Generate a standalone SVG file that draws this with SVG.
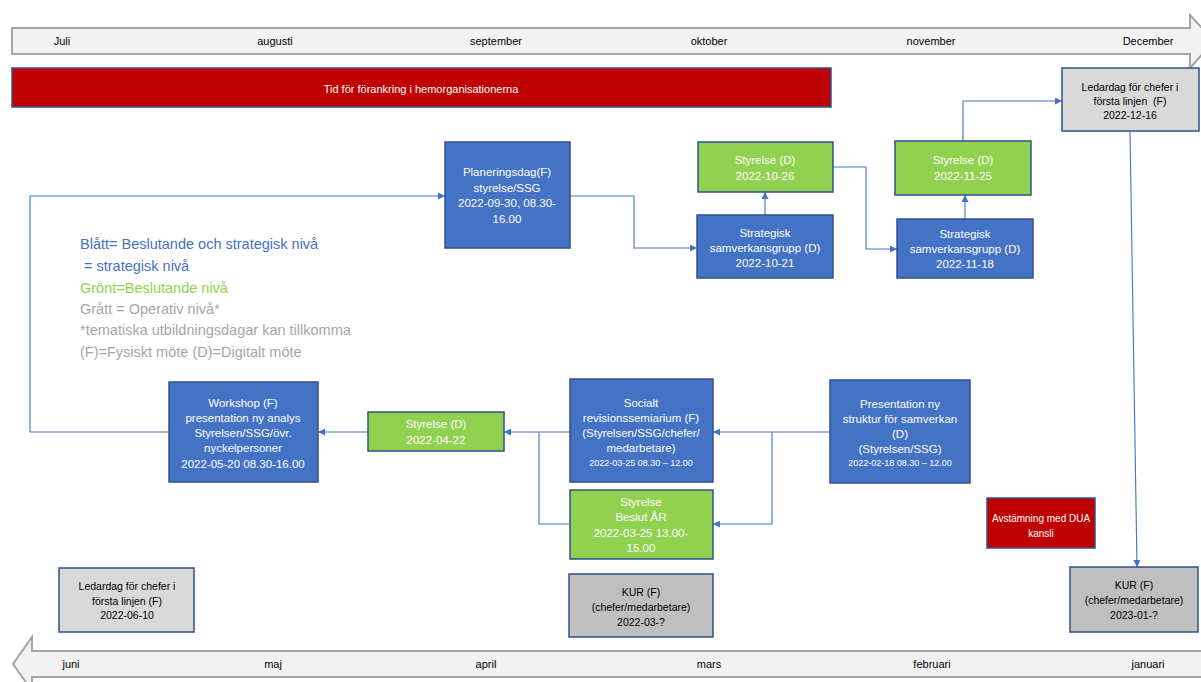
<svg xmlns="http://www.w3.org/2000/svg" width="1201" height="682" viewBox="0 0 1201 682">
<defs>
<style>
text{font-family:"Liberation Sans",Arial,sans-serif;text-anchor:middle}
.box{stroke:#2f528f;stroke-width:1.5}
.blue{fill:#4472c4}
.green{fill:#92d050}
.red{fill:#c00000}
.lgray{fill:#d9d9d9}
.dgray{fill:#bfbfbf}
.wt{fill:#ffffff;font-size:11.5px}
.bt{fill:#000000;font-size:10.5px}
.sm{font-size:9px}
.tl{fill:#f2f2f2;stroke:#a5a5a5;stroke-width:2}
.mo{fill:#000;font-size:11px}
.conn{fill:none;stroke:#4472c4;stroke-width:1.1}
.leg{font-size:14.5px;text-anchor:start}
</style>
<marker id="ah" viewBox="0 0 10 10" refX="10" refY="5" markerWidth="7" markerHeight="7" markerUnits="userSpaceOnUse" orient="auto">
<path d="M0,0 L10,5 L0,10 z" fill="#4472c4"/>
</marker>
</defs>

<g id="timeline-top">
<path class="tl" d="M12,28 H1190 V15 L1214,41 L1190,68 V54 H12 Z"/>
<text class="mo" x="62" y="45">Juli</text>
<text class="mo" x="275" y="45">augusti</text>
<text class="mo" x="496" y="45">september</text>
<text class="mo" x="709" y="45">oktober</text>
<text class="mo" x="931" y="45">november</text>
<text class="mo" x="1148" y="45">December</text>
</g>

<g id="timeline-bottom">
<path class="tl" d="M1210,651 H32 V637 L13,664 L32,691 V677 H1210"/>
<text class="mo" x="71" y="668">juni</text>
<text class="mo" x="273" y="668">maj</text>
<text class="mo" x="486" y="668">april</text>
<text class="mo" x="709" y="668">mars</text>
<text class="mo" x="932" y="668">februari</text>
<text class="mo" x="1148" y="668">januari</text>
</g>

<g id="forankring">
<rect class="box red" x="12" y="68" width="819" height="39"/>
<text class="wt" x="421" y="93" style="font-size:11px">Tid för förankring i hemorganisationerna</text>
</g>

<g id="legend">
<text class="leg" x="80" y="249" fill="#4472c4">Blått= Beslutande och strategisk nivå</text>
<text class="leg" x="84" y="271" fill="#4472c4">= strategisk nivå</text>
<text class="leg" x="80" y="293" fill="#92d050">Grönt=Beslutande nivå</text>
<text class="leg" x="80" y="314" fill="#a6a6a6">Grått = Operativ nivå*</text>
<text class="leg" x="80" y="335" fill="#a6a6a6">*tematiska utbildningsdagar kan tillkomma</text>
<text class="leg" x="80" y="357" fill="#a6a6a6">(F)=Fysiskt möte (D)=Digitalt möte</text>
</g>

<g id="connectors">
<path class="conn" d="M570,196 H634 V248 H697" marker-end="url(#ah)"/>
<path class="conn" d="M765,215 V192" marker-end="url(#ah)"/>
<path class="conn" d="M833,167 H866 V249 H897" marker-end="url(#ah)"/>
<path class="conn" d="M965,219 V195" marker-end="url(#ah)"/>
<path class="conn" d="M963,141 V101 H1062" marker-end="url(#ah)"/>
<path class="conn" d="M1130,131 L1137,567" marker-end="url(#ah)"/>
<path class="conn" d="M169,432 H30 V196 H445" marker-end="url(#ah)"/>
<path class="conn" d="M368,432 H318" marker-end="url(#ah)"/>
<path class="conn" d="M570,432 H504" marker-end="url(#ah)"/>
<path class="conn" d="M570,524 H539 V432"/>
<path class="conn" d="M830,432 H713" marker-end="url(#ah)"/>
<path class="conn" d="M772,432 V524 H713" marker-end="url(#ah)"/>
</g>

<g id="planeringsdag">
<rect class="box blue" x="445" y="142" width="125" height="106"/>
<text class="wt" x="507" y="176">Planeringsdag(F)</text>
<text class="wt" x="507" y="192">styrelse/SSG</text>
<text class="wt" x="507" y="207">2022-09-30, 08.30-</text>
<text class="wt" x="507" y="223">16.00</text>
</g>

<g id="styrelse-1026">
<rect class="box green" x="698" y="142" width="135" height="50"/>
<text class="wt" x="765" y="164">Styrelse (D)</text>
<text class="wt" x="765" y="180">2022-10-26</text>
</g>

<g id="strategisk-1021">
<rect class="box blue" x="697" y="215" width="136" height="63"/>
<text class="wt" x="765" y="237">Strategisk</text>
<text class="wt" x="765" y="252">samverkansgrupp (D)</text>
<text class="wt" x="765" y="267">2022-10-21</text>
</g>

<g id="styrelse-1125">
<rect class="box green" x="895" y="141" width="136" height="54"/>
<text class="wt" x="963" y="164">Styrelse (D)</text>
<text class="wt" x="963" y="180">2022-11-25</text>
</g>

<g id="strategisk-1118">
<rect class="box blue" x="897" y="219" width="136" height="59"/>
<text class="wt" x="965" y="238">Strategisk</text>
<text class="wt" x="965" y="253">samverkansgrupp (D)</text>
<text class="wt" x="965" y="268">2022-11-18</text>
</g>

<g id="ledardag-1216">
<rect class="box lgray" x="1062" y="68" width="137" height="63"/>
<text class="bt" x="1130" y="91">Ledardag för chefer i</text>
<text class="bt" x="1130" y="105" xml:space="preserve">första linjen  (F)</text>
<text class="bt" x="1130" y="119">2022-12-16</text>
</g>

<g id="workshop">
<rect class="box blue" x="169" y="382" width="149" height="100"/>
<text class="wt" x="243" y="407">Workshop (F)</text>
<text class="wt" x="243" y="422">presentation ny analys</text>
<text class="wt" x="243" y="437">Styrelsen/SSG/övr.</text>
<text class="wt" x="243" y="452">nyckelpersoner</text>
<text class="wt" x="243" y="468">2022-05-20 08.30-16.00</text>
</g>

<g id="styrelse-0422">
<rect class="box green" x="368" y="412" width="136" height="39"/>
<text class="wt" x="436" y="428">Styrelse (D)</text>
<text class="wt" x="436" y="444">2022-04-22</text>
</g>

<g id="socialt">
<rect class="box blue" x="570" y="379" width="143" height="103"/>
<text class="wt" x="641" y="407">Socialt</text>
<text class="wt" x="641" y="422">revisionssemiarium (F)</text>
<text class="wt" x="641" y="437">(Styrelsen/SSG/chefer/</text>
<text class="wt" x="641" y="452">medarbetare)</text>
<text class="wt sm" x="641" y="466">2022-03-25 08.30 – 12.00</text>
</g>

<g id="styrelse-beslut">
<rect class="box green" x="570" y="490" width="143" height="69"/>
<text class="wt" x="641" y="506">Styrelse</text>
<text class="wt" x="641" y="521">Beslut ÅR</text>
<text class="wt" x="641" y="537">2022-03-25 13.00-</text>
<text class="wt" x="641" y="552">15.00</text>
</g>

<g id="presentation">
<rect class="box blue" x="830" y="380" width="140" height="103"/>
<text class="wt" x="900" y="408">Presentation ny</text>
<text class="wt" x="900" y="423">struktur för samverkan</text>
<text class="wt" x="900" y="438">(D)</text>
<text class="wt" x="900" y="453">(Styrelsen/SSG)</text>
<text class="wt sm" x="900" y="466">2022-02-18 08.30 – 12.00</text>
</g>

<g id="avstamning">
<rect class="box red" x="987" y="498" width="108" height="50"/>
<text class="wt" x="1041" y="522" style="font-size:10px">Avstämning med DUA</text>
<text class="wt" x="1041" y="537" style="font-size:10px">kansli</text>
</g>

<g id="kur-2023">
<rect class="box dgray" x="1070" y="567" width="128" height="65"/>
<text class="bt" x="1134" y="589">KUR (F)</text>
<text class="bt" x="1134" y="604">(chefer/medarbetare)</text>
<text class="bt" x="1134" y="619">2023-01-?</text>
</g>

<g id="ledardag-0610">
<rect class="box lgray" x="59" y="568" width="135" height="64"/>
<text class="bt" x="127" y="590">Ledardag för chefer i</text>
<text class="bt" x="127" y="605">första linjen (F)</text>
<text class="bt" x="127" y="619">2022-06-10</text>
</g>

<g id="kur-2022">
<rect class="box dgray" x="569" y="574" width="144" height="63"/>
<text class="bt" x="641" y="596">KUR (F)</text>
<text class="bt" x="641" y="611">(chefer/medarbetare)</text>
<text class="bt" x="641" y="626">2022-03-?</text>
</g>
</svg>
